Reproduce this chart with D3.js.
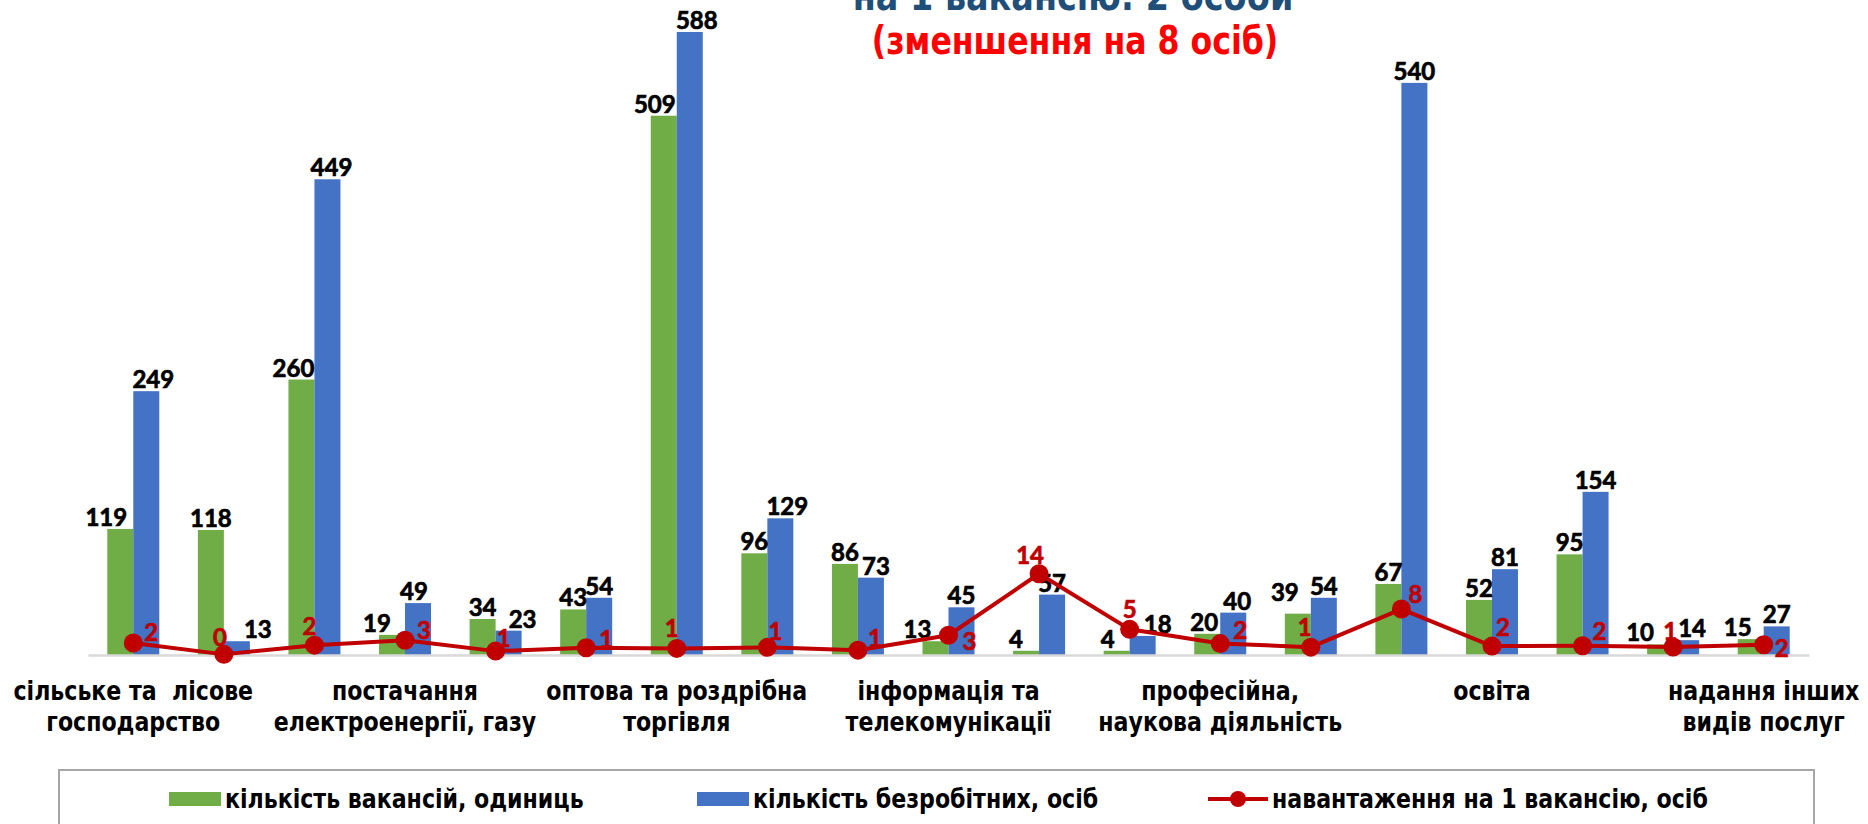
<!DOCTYPE html>
<html>
<head>
<meta charset="utf-8">
<script src="https://cdn.jsdelivr.net/npm/d3@7"></script>
<style>
  html, body { margin: 0; padding: 0; background: #fff; }
  svg { display: block; }
</style>
</head>
<body>
<svg id="chart" width="1868" height="824"></svg>
<script>
// ---------------- DATA ----------------
const categories = [
  "сільське та  лісове\nгосподарство",
  "добувна промисловість",
  "переробна промисловість",
  "постачання\nелектроенергії, газу",
  "водопостачання",
  "будівництво",
  "оптова та роздрібна\nторгівля",
  "транспорт",
  "тимчасове розміщування",
  "інформація та\nтелекомунікації",
  "фінансова діяльність",
  "операції з нерухомим майном",
  "професійна,\nнаукова діяльність",
  "адміністративне обслуговування",
  "державне управління",
  "освіта",
  "охорона здоров'я",
  "мистецтво, спорт",
  "надання інших\nвидів послуг"
];
const vacancies  = [119, 118, 260, 19, 34, 43, 509, 96, 86, 13, 4, 4, 20, 39, 67, 52, 95, 10, 15];
const unemployed = [249, 13, 449, 49, 23, 54, 588, 129, 73, 45, 57, 18, 40, 54, 540, 81, 154, 14, 27];
const loadPerVacancy = [2.09, 0.11, 1.73, 2.58, 0.68, 1.26, 1.16, 1.34, 0.85, 3.46, 14.25, 4.5, 2.0, 1.38, 8.06, 1.56, 1.62, 1.4, 1.8];
const loadLabels = ["2", "0", "2", "3", "1", "1", "1", "1", "1", "3", "14", "5", "2", "1", "8", "2", "2", "1", "2"];
const seriesNames = ["кількість вакансій, одиниць", "кількість безробітних, осіб", "навантаження на 1 вакансію, осіб"];
const titleLines = ["на 1 вакансію: 2 особи", "(зменшення на 8 осіб)"];
const barMax = 600;
const lineMax = 111.5;
const labelEvery = 3;

// ---------------- LAYOUT / STYLE ----------------
const W = 1868, H = 824;
const plot = { left: 88, right: 1809, top: 19.3, bottom: 655 };
const colors = { vac: "#70AD47", unemp: "#4472C4", line: "#C00000", title1: "#1F4E79", title2: "#FF0000", axis: "#D9D9D9" };
const numFont = "Lato, 'Open Sans', sans-serif";
const catFont = "'Liberation Sans Narrow', 'DejaVu Sans Condensed', 'Roboto Condensed', Roboto, sans-serif";
const squeeze = 0.91;
// label nudges (layout only, px)
const vacNudge   = [[-14,0],[0,0],[-8,0],[-15,0],[0,0],[0,0],[-9,0],[0,0],[0,0],[-18,0],[-10,0],[-9,0],[-3,0],[-13,-10],[0,0],[0,0],[0,0],[-20,0],[-13,0]];
const unempNudge = [[7,0],[21,0],[4,0],[-4,0],[14,0],[0,0],[7,0],[7,0],[5,0],[0,0],[0,0],[15,0],[4,0],[0,0],[0,0],[0,0],[0,0],[6,0],[0,0]];
const loadNudge  = [[18,-11],[-4,-17],[-5,-19],[19,-10],[8,-13],[20,-8],[-5,-20],[8,-16],[17,-12],[21,6],[-9,-18],[0,-20],[20,-13],[-6,-20],[14,-15],[11,-19],[17,-14],[-3,-16],[18,4]];

const svg = d3.select("#chart");
svg.append("rect").attr("width", W).attr("height", H).attr("fill", "#fff");

const idx = d3.range(categories.length);
const x = d3.scaleBand().domain(idx).range([plot.left, plot.right]).paddingInner(0.426).paddingOuter(0.213);
const xs = d3.scaleBand().domain(["vac", "unemp"]).range([0, x.bandwidth()]);
const y = d3.scaleLinear().domain([0, barMax]).range([plot.bottom, plot.top]);
const y2 = d3.scaleLinear().domain([0, lineMax]).range([plot.bottom, plot.top]);
const cx = i => x(i) + x.bandwidth() / 2;

// Title
svg.append("g").attr("transform", `translate(1073,10) scale(0.93,1)`)
  .append("text").attr("x", 0).attr("y", 0).attr("text-anchor", "middle")
  .attr("font-family", catFont).attr("font-weight", "bold").attr("font-size", 40)
  .attr("fill", colors.title1).text(titleLines[0]);
svg.append("g").attr("transform", `translate(1075,54) scale(0.9,1)`)
  .append("text").attr("x", 0).attr("y", 0).attr("text-anchor", "middle")
  .attr("font-family", catFont).attr("font-weight", "bold").attr("font-size", 39)
  .attr("fill", colors.title2).text(titleLines[1]);

// Bars
const series = [
  { key: "vac", values: vacancies, color: colors.vac, nudge: vacNudge },
  { key: "unemp", values: unemployed, color: colors.unemp, nudge: unempNudge }
];
series.forEach(s => {
  svg.append("g").selectAll("rect").data(idx).join("rect")
    .attr("x", i => x(i) + xs(s.key))
    .attr("y", i => y(s.values[i]))
    .attr("width", xs.bandwidth())
    .attr("height", i => y(0) - y(s.values[i]))
    .attr("fill", s.color);
});

// Axis baseline (category axis, no ticks)
const xAxis = d3.axisBottom(x).tickSize(0).tickFormat("");
const ax = svg.append("g").attr("transform", `translate(0,${plot.bottom})`).call(xAxis);
ax.select(".domain").attr("stroke", colors.axis).attr("stroke-width", 2.5);

// Bar labels
series.forEach(s => {
  svg.append("g").selectAll("text").data(idx).join("text")
    .attr("x", i => x(i) + xs(s.key) + xs.bandwidth() / 2 + s.nudge[i][0])
    .attr("y", i => y(s.values[i]) - 3 + s.nudge[i][1])
    .attr("text-anchor", "middle")
    .attr("font-family", numFont).attr("font-weight", "bold").attr("font-size", 24)
    .attr("fill", "#000").attr("stroke", "#000").attr("stroke-width", 0.7)
    .text(i => d3.format("d")(s.values[i]));
});

// Line
const line = d3.line().x(i => cx(i)).y(i => y2(loadPerVacancy[i]));
svg.append("path").datum(idx).attr("d", line)
  .attr("fill", "none").attr("stroke", colors.line).attr("stroke-width", 4).attr("stroke-linejoin", "round");
svg.append("g").selectAll("circle").data(idx).join("circle")
  .attr("cx", i => cx(i)).attr("cy", i => y2(loadPerVacancy[i])).attr("r", 9.5)
  .attr("fill", colors.line);
svg.append("g").selectAll("text").data(idx).join("text")
  .attr("x", i => cx(i) + loadNudge[i][0])
  .attr("y", i => y2(loadPerVacancy[i]) + loadNudge[i][1])
  .attr("dy", "0.36em")
  .attr("text-anchor", "middle")
  .attr("font-family", numFont).attr("font-weight", "bold").attr("font-size", 24)
  .attr("fill", colors.line).attr("stroke", colors.line).attr("stroke-width", 0.7)
  .text(i => loadLabels[i]);

// Category labels (every third shown)
const catG = svg.append("g");
idx.filter(i => i % labelEvery === 0).forEach(i => {
  const g = catG.append("g").attr("transform", `translate(${cx(i)},0) scale(${squeeze},1)`);
  const t = g.append("text").attr("x", 0).attr("y", 700).attr("text-anchor", "middle")
    .attr("font-family", catFont).attr("font-weight", "bold").attr("font-size", 27).attr("fill", "#000");
  categories[i].split("\n").forEach((ln, k) => {
    t.append("tspan").attr("x", 0).attr("dy", k === 0 ? 0 : 31).attr("xml:space", "preserve").text(ln);
  });
  const bb = t.node().getBBox();
  const left = cx(i) + bb.x * squeeze, right = cx(i) + (bb.x + bb.width) * squeeze;
  let shift = 0;
  if (left < 8) shift = 8 - left;
  if (right > W - 8) shift = (W - 8) - right;
  if (shift) g.attr("transform", `translate(${cx(i) + shift},0) scale(${squeeze},1)`);
});

// Legend
const lg = svg.append("g");
lg.append("rect").attr("x", 59).attr("y", 770).attr("width", 1755).attr("height", 90)
  .attr("fill", "#fff").attr("stroke", "#A6A6A6").attr("stroke-width", 2);
const legendItems = [
  { type: "rect", color: colors.vac, x: 169, name: seriesNames[0] },
  { type: "rect", color: colors.unemp, x: 697, name: seriesNames[1] },
  { type: "line", color: colors.line, x: 1208, name: seriesNames[2] }
];
legendItems.forEach(it => {
  if (it.type === "rect") {
    lg.append("rect").attr("x", it.x).attr("y", 792).attr("width", 52).attr("height", 14).attr("fill", it.color);
  } else {
    lg.append("line").attr("x1", it.x).attr("x2", it.x + 60).attr("y1", 799).attr("y2", 799)
      .attr("stroke", it.color).attr("stroke-width", 4);
    lg.append("circle").attr("cx", it.x + 30).attr("cy", 799).attr("r", 8).attr("fill", it.color);
  }
  const tx = it.x + (it.type === "rect" ? 56 : 64);
  lg.append("g").attr("transform", `translate(${tx},799) scale(${squeeze},1)`)
    .append("text").attr("x", 0).attr("y", 0).attr("dy", "0.35em")
    .attr("font-family", catFont).attr("font-weight", "bold").attr("font-size", 27).attr("fill", "#000")
    .text(it.name);
});
</script>
</body>
</html>
